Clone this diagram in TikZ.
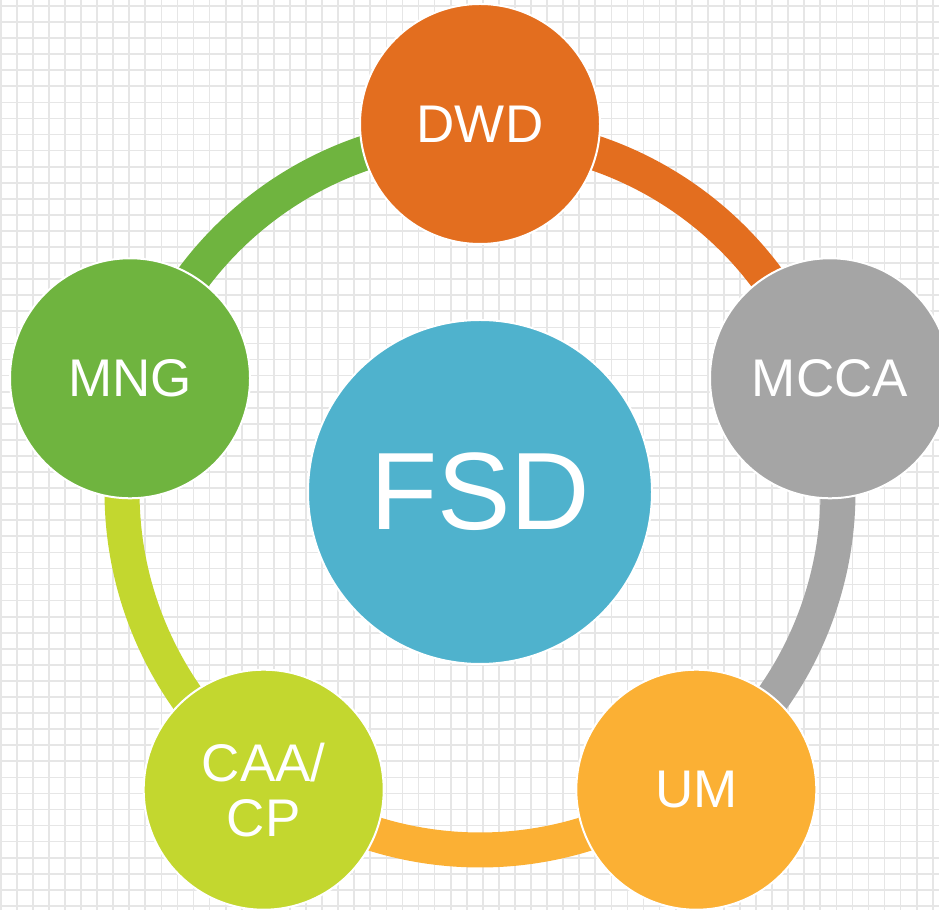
\documentclass[tikz,border=0pt]{standalone}
\usepackage{fontspec}
\setmainfont{Liberation Sans}
\usepackage{tikz}

\definecolor{fsdblue}{HTML}{4FB2CD}
\definecolor{dwdorange}{HTML}{E36E1F}
\definecolor{mccagray}{HTML}{A5A5A5}
\definecolor{umorange}{HTML}{FBB034}
\definecolor{caagreen}{HTML}{C3D72F}
\definecolor{mnggreen}{HTML}{6FB43F}
\definecolor{gridgray}{HTML}{E6E6E6}

\begin{document}
\begin{tikzpicture}[x=1pt,y=1pt]

        \tikzstyle{unit} = [circle, draw=white, line width=2pt, minimum size=240pt, inner sep=0pt, text=white, font=\fontsize{53}{55}\selectfont, align=center];
        \tikzstyle{hub} = [unit, minimum size=344pt, font=\fontsize{110}{116}\selectfont];
        \tikzstyle{ring} = [line width=35pt];
        \tikzstyle{gridline} = [draw=gridgray, line width=1.7pt];

        % paper and grid
        \useasboundingbox[fill=white] (0,0) rectangle (939,910);
        \foreach \i in {0,...,58}
            \draw[gridline] (0.7+16.07*\i,0) -- (0.7+16.07*\i,910);
        \foreach \j in {0,...,56}
            \draw[gridline] (0,904-16.07*\j) -- (939,904-16.07*\j);

        \node[hub, fill=fsdblue] (fsd) at (480,418) {FSD};

        % ring segments, clockwise from each unit
        \foreach \a/\col in {90/dwdorange, 18/mccagray, -54/umorange, -126/caagreen, 162/mnggreen}{
            \pgfmathsetmacro{\s}{\a-18.5}
            \pgfmathsetmacro{\e}{\a-53.5}
            \draw[ring, draw=\col] (fsd.center) ++(\s:358) arc[start angle=\s, end angle=\e, radius=358];
        }

        \node[unit, fill=dwdorange] (dwd) at ([shift={(90:368)}]fsd.center) {DWD};
        \node[unit, fill=mccagray] (mcca) at ([shift={(18:368)}]fsd.center) {MCCA};
        \node[unit, fill=umorange] (um) at ([shift={(-54:368)}]fsd.center) {UM};
        \node[unit, fill=caagreen] (caa) at ([shift={(-126:368)}]fsd.center) {CAA/\\CP};
        \node[unit, fill=mnggreen] (mng) at ([shift={(162:368)}]fsd.center) {MNG};

    \end{tikzpicture}
\end{document}
